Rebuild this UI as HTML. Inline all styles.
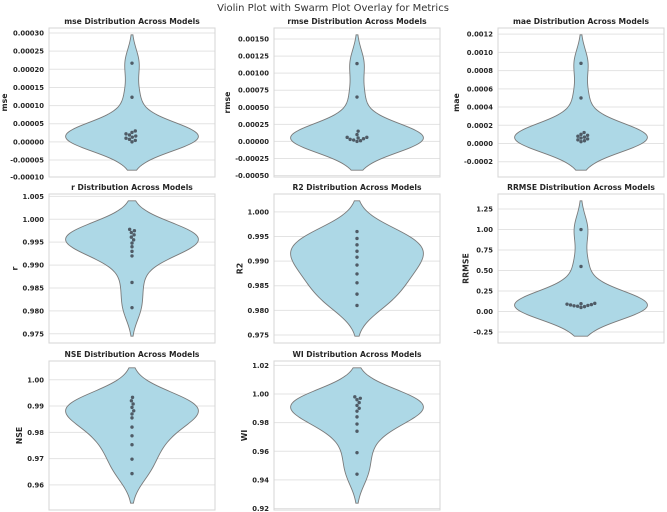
<!DOCTYPE html>
<html><head><meta charset="utf-8"><style>
html,body{margin:0;padding:0;background:#fff;}
svg{display:block;font-family:"DejaVu Sans","Liberation Sans",sans-serif;}
</style></head><body>
<svg id="chart" width="667" height="512" viewBox="0 0 667 512">
<text x="333" y="11" text-anchor="middle" font-size="10" fill="#333">Violin Plot with Swarm Plot Overlay for Metrics</text>
</svg>
<script>
const metrics = ["mse","rmse","mae","r","R2","RRMSE","NSE","WI"];
const mseValues = [0.000217,0.000123,0.000030,0.000026,0.000022,0.000019,0.000016,0.000013,0.000010,0.000007,0.000004,0.000000];
const rmseValues = [0.00114,0.00065,0.00015,0.00010,0.00006,0.00005,0.00004,0.00003,0.00002,0.00001,0.00000,0.00006];
const maeValues = [0.00088,0.00050,0.00012,0.00010,0.00009,0.00008,0.00007,0.00006,0.00005,0.00004,0.00003,0.00002];
const rValues = [0.9978,0.9975,0.9971,0.9966,0.9961,0.9955,0.9948,0.9940,0.9930,0.9920,0.9862,0.9807];
const r2Values = [0.9960,0.9946,0.9933,0.9920,0.9908,0.9892,0.9874,0.9856,0.9833,0.9810];
const rrmseValues = [1.00,0.55,0.10,0.095,0.09,0.085,0.08,0.075,0.07,0.065,0.06,0.05];
const nseValues = [0.9933,0.9920,0.9908,0.9895,0.9882,0.9870,0.9855,0.9820,0.9787,0.9753,0.9698,0.9643];
const wiValues = [0.998,0.997,0.996,0.994,0.992,0.990,0.988,0.984,0.979,0.974,0.959,0.944];
const mseTicks = ["-0.00010","-0.00005","0.00000","0.00005","0.00010","0.00015","0.00020","0.00025","0.00030"];
const rmseTicks = ["-0.00050","-0.00025","0.00000","0.00025","0.00050","0.00075","0.00100","0.00125","0.00150"];
const maeTicks = ["-0.0002","0.0000","0.0002","0.0004","0.0006","0.0008","0.0010","0.0012"];
const rTicks = ["0.975","0.980","0.985","0.990","0.995","1.000","1.005"];
const r2Ticks = ["0.975","0.980","0.985","0.990","0.995","1.000"];
const rrmseTicks = ["-0.25","0.00","0.25","0.50","0.75","1.00","1.25"];
const nseTicks = ["0.96","0.97","0.98","0.99","1.00"];
const wiTicks = ["0.92","0.94","0.96","0.98","1.00","1.02"];

const allValues = [mseValues,rmseValues,maeValues,rValues,r2Values,rrmseValues,nseValues,wiValues];
const allTicks = [mseTicks,rmseTicks,maeTicks,rTicks,r2Ticks,rrmseTicks,nseTicks,wiTicks];
const colL = [49,274,498], colW = 166, rowT = [28,194,361], rowH = 149;
const NS = "http://www.w3.org/2000/svg";
const svg = document.getElementById('chart');
function mk(tag, attrs, parent){const e=document.createElementNS(NS,tag);for(const k in attrs)e.setAttribute(k,attrs[k]);(parent||svg).appendChild(e);return e;}

metrics.forEach((m,i)=>{
  const vals = allValues[i], ticks = allTicks[i];
  const L = colL[i%3], T = rowT[Math.floor(i/3)], W = colW, H = rowH;
  const g = mk('g',{});
  
  
  const n = vals.length, mean = vals.reduce((a,b)=>a+b,0)/n;
  const sd = Math.sqrt(vals.reduce((a,b)=>a+(b-mean)*(b-mean),0)/(n-1));
  const bw = sd*Math.pow(n,-0.2);
  const lo = Math.min(...vals)-2*bw, hi = Math.max(...vals)+2*bw;
  const pad = (hi-lo)*0.05, y0 = lo-pad, y1 = hi+pad;
  const yS = v => T + H - (v-y0)/(y1-y0)*H;
  const cx = L + W/2, xS = d => d*W;
  const eps = (y1-y0)*0.02;
  ticks.forEach(t=>{
    const v = parseFloat(t); if(v<y0-eps||v>y1+eps) return;
    const yy = Math.min(Math.max(yS(v),T),T+H);
    const gl = mk('line',{x1:L,x2:L+W,y1:yy,y2:yy,stroke:'#e3e3e3','stroke-width':1},g);
    
    
    const tl = mk('text',{x:L-5,y:yy+2.5,'text-anchor':'end','font-size':6.8,'font-weight':'bold',fill:'#262626'},g);
    tl.textContent = t;
    
    
  });
  const fr = mk('rect',{x:L,y:T,width:W,height:H,fill:'none',stroke:'#d5d5d5','stroke-width':1},g);
  
  
  const N = 120, dens = [];
  for(let k=0;k<=N;k++){const y=lo+(hi-lo)*k/N;let s=0;vals.forEach(v=>{const z=(y-v)/bw;s+=Math.exp(-0.5*z*z);});dens.push([y,s]);}
  const dmax = Math.max(...dens.map(d=>d[1]));
  let p = '';
  dens.forEach((d,k)=>{p+=(k?'L':'M')+(cx+xS(0.4*d[1]/dmax)).toFixed(2)+','+yS(d[0]).toFixed(2);});
  for(let k=N;k>=0;k--){const d=dens[k];p+='L'+(cx-xS(0.4*d[1]/dmax)).toFixed(2)+','+yS(d[0]).toFixed(2);}
  p+='Z';
  const vp = mk('path',{d:p,fill:'#add8e6',stroke:'#7a7a7a','stroke-width':0.9},g);
  
  
  const D = 3.6, placed = [];
  const order = vals.map((v,k)=>k).sort((a,b)=>vals[a]-vals[b]);
  order.forEach(k=>{
    const py = yS(vals[k]);
    const cands=[0];
    placed.forEach(q=>{const dy=Math.abs(q[1]-py);if(dy<D){const dx=Math.sqrt(D*D-dy*dy);cands.push(q[0]+dx,q[0]-dx);}});
    cands.sort((a,b)=>Math.abs(a)-Math.abs(b));
    let px=0;
    for(const c of cands){if(placed.every(q=>Math.hypot(q[0]-c,q[1]-py)>=D-0.01)){px=c;break;}}
    placed.push([px,py]);
    const dot = mk('circle',{cx:cx+px,cy:py,r:1.7,fill:'#4f5b66'},g);
    
    
  });
  const tt = mk('text',{x:cx,y:T-4,'text-anchor':'middle','font-size':7.6,'font-weight':'bold',fill:'#262626'},g);
  tt.textContent = m+' Distribution Across Models';
  
  
  let maxW = 0;
  g.querySelectorAll('text[text-anchor="end"]').forEach(t=>{maxW=Math.max(maxW,t.getComputedTextLength());});
  const lx = Math.max(L-5-maxW-5, 7), ly = T+H/2;
  const yl = mk('text',{x:lx,y:ly,'text-anchor':'middle','font-size':7.8,'font-weight':'bold',fill:'#262626',transform:'rotate(-90 '+lx+' '+ly+')'},g);
  yl.textContent = m;
  
  
});
</script>
</body></html>
